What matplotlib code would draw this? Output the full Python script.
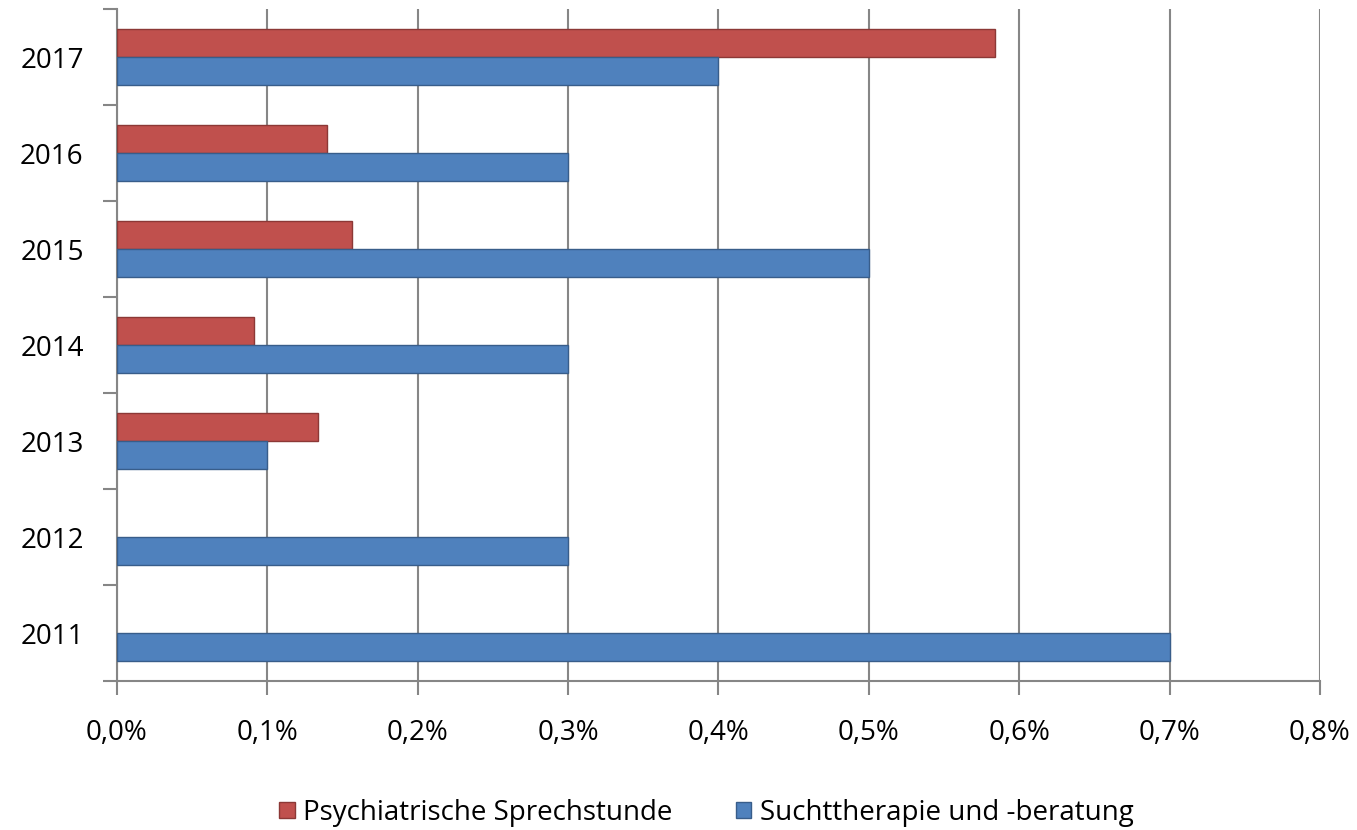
import numpy as np
import matplotlib
matplotlib.use('Agg')
import matplotlib.pyplot as plt
from matplotlib.ticker import FixedLocator

plt.rcParams['font.family'] = ['Open Sans', 'DejaVu Sans']

# Daten (Anteil in %), Sprechstunde erst ab 2013
jahre = ['2011', '2012', '2013', '2014', '2015', '2016', '2017']
psychiatrie = [np.nan, np.nan, 0.134, 0.091, 0.156, 0.14, 0.584]
sucht = [0.7, 0.3, 0.1, 0.3, 0.5, 0.3, 0.4]
x_ticks = [0.0, 0.1, 0.2, 0.3, 0.4, 0.5, 0.6, 0.7, 0.8]

fig = plt.figure(figsize=(13.57, 8.30), dpi=100)
ax = fig.add_axes([0.0862, 0.1795, 0.8865, 0.8095])

y = np.arange(len(jahre))
h = 0.29
psy = np.array(psychiatrie)
ok = ~np.isnan(psy)
# rot oben, blau unten
ax.barh(y[ok] + h / 2, psy[ok], height=h, color='#C0504D', edgecolor='#8C3836',
        linewidth=1, label='Psychiatrische Sprechstunde', zorder=3)
ax.barh(y - h / 2, sucht, height=h, color='#4F81BD', edgecolor='#385D8A',
        linewidth=1, label='Suchttherapie und -beratung', zorder=3)

ax.set_xlim(0, 0.8)
ax.set_ylim(-0.5, len(jahre) - 0.5)
ax.set_xticks(x_ticks)
ax.set_xticklabels([('%.1f' % v).replace('.', ',') + '%' for v in x_ticks])
ax.set_yticks(y)
ax.set_yticklabels(jahre)
ax.yaxis.set_minor_locator(FixedLocator(np.arange(-0.5, len(jahre), 1)))

ax.grid(axis='x', color='#868686', linewidth=1.5, zorder=0)
for s in ['top', 'right']:
    ax.spines[s].set_visible(False)
for s in ['left', 'bottom']:
    ax.spines[s].set_color('#868686')
    ax.spines[s].set_linewidth(1.5)

ax.tick_params(axis='y', which='major', length=0, pad=24, labelsize=20)
ax.tick_params(axis='y', which='minor', length=10, width=1.5, color='#868686')
ax.tick_params(axis='x', length=10, width=1.5, color='#868686', pad=17, labelsize=20)

ax.legend(loc='upper center', bbox_to_anchor=(0.49, -0.138), ncol=2, frameon=False,
          fontsize=20, handlelength=0.55, handleheight=0.55, handletextpad=0.3,
          columnspacing=2.3)

fig.savefig('out.png', dpi=100, facecolor='white')
